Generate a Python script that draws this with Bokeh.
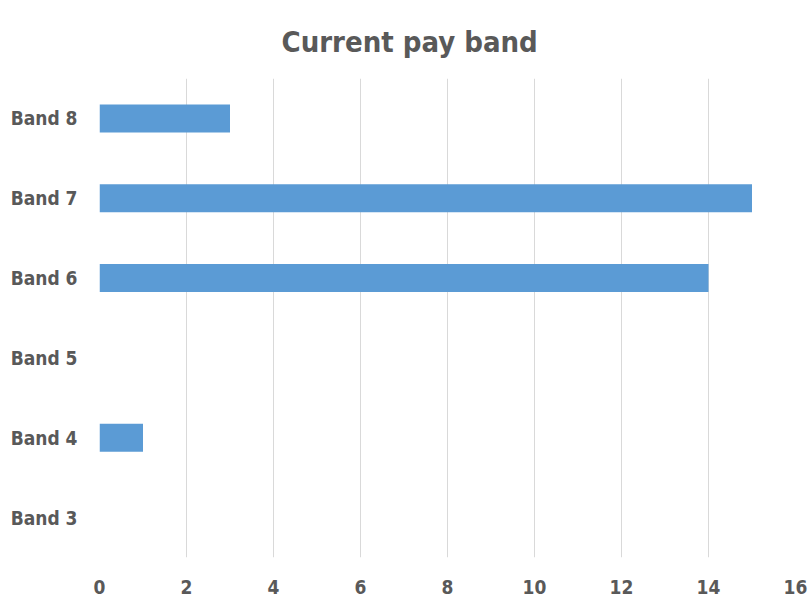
from bokeh.plotting import figure
from bokeh.embed import file_html
from bokeh.resources import INLINE
from bokeh.models import ColumnDataSource, FixedTicker, Range1d

bands = ["Band 3", "Band 4", "Band 5", "Band 6", "Band 7", "Band 8"]
counts = [0, 1, 0, 14, 15, 3]
x_ticks = [0, 2, 4, 6, 8, 10, 12, 14, 16]
title_text = "Current pay band"

FONT = "DejaVu Sans Condensed"
GREY = "#595959"

src = ColumnDataSource(dict(band=bands, count=counts))

p = figure(
    width=810, height=601, y_range=bands, x_range=Range1d(0, 16),
    output_backend="svg", toolbar_location=None,
    min_border_left=99, min_border_right=15, min_border_top=78, min_border_bottom=44,
    title=title_text,
)
p.hbar(y="band", right="count", left=0, height=0.35, source=src,
       fill_color="#5B9BD5", line_color=None)

p.title.align = "left"
p.title.offset = 182
p.title.vertical_align = "bottom"
p.title.text_font = FONT
p.title.text_font_size = "29px"
p.title.text_font_style = "bold"
p.title.text_color = GREY
p.title.standoff = 40

p.outline_line_color = None
p.background_fill_color = "white"
p.border_fill_color = "white"

p.xaxis.ticker = FixedTicker(ticks=x_ticks)
for ax in (p.xaxis[0], p.yaxis[0]):
    ax.axis_line_color = None
    ax.major_tick_line_color = None
    ax.minor_tick_line_color = None
    ax.major_label_text_font = FONT
    ax.major_label_text_font_size = "19px"
    ax.major_label_text_font_style = "bold"
    ax.major_label_text_color = GREY
p.xaxis.major_label_standoff = 16
p.yaxis.major_label_standoff = 16

p.xgrid.grid_line_color = "#d9d9d9"
p.ygrid.grid_line_color = None

open("out.html", "w").write(file_html(p, INLINE))
